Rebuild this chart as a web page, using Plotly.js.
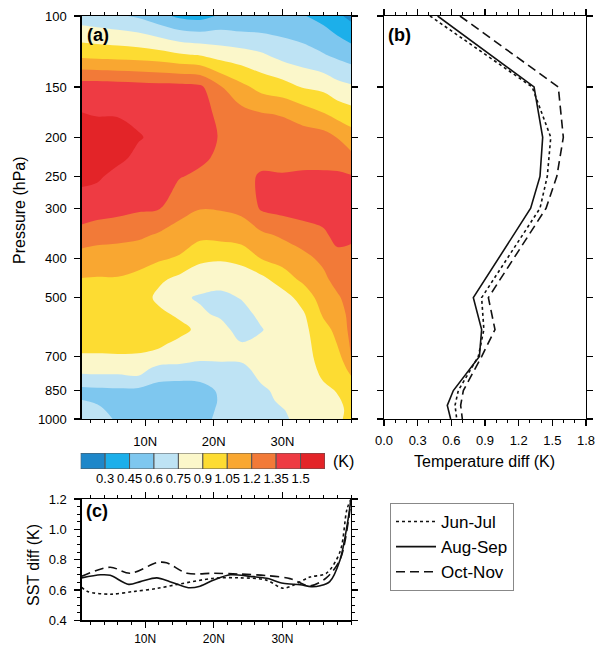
<!DOCTYPE html>
<html><head><meta charset="utf-8">
<script src="https://cdn.plot.ly/plotly-3.0.1.min.js"></script>
<style>html,body{margin:0;padding:0;background:#fff}#chart{width:599px;height:648px}</style>
</head><body><div id="chart"></div>
<script>
// ---------- panel (a): latitude-pressure field of temperature difference (K) ----------
const lats = [0.75, 3, 6, 9, 12, 15, 18, 21, 24, 27, 30, 33, 36, 38, 40];
const levels = [100,125,150,175,200,225,250,300,350,400,450,500,550,600,650,700,750,800,850,900,950,1000];
// one profile per latitude (values at the pressure levels above, 100 -> 1000 hPa)
const tdiffByLat = [
  [0.67,1.01,1.43,1.505,1.58,1.58,1.53,1.44,1.29,1.13,1.045,1.00,0.98,0.96,0.93,0.89,0.79,0.70,0.55,0.605,0.65,0.68],
  [0.65,1.00,1.43,1.49,1.58,1.57,1.52,1.42,1.26,1.12,1.04,1.00,0.98,0.96,0.93,0.89,0.79,0.71,0.56,0.58,0.63,0.66],
  [0.62,0.99,1.42,1.49,1.56,1.53,1.46,1.40,1.24,1.125,1.04,1.00,0.98,0.97,0.94,0.89,0.79,0.71,0.57,0.53,0.55,0.58],
  [0.58,0.98,1.41,1.47,1.51,1.47,1.42,1.37,1.23,1.09,1.02,0.99,0.97,0.96,0.93,0.89,0.80,0.72,0.56,0.50,0.50,0.52],
  [0.50,0.96,1.40,1.46,1.47,1.46,1.44,1.36,1.18,1.07,0.93,0.86,0.94,0.95,0.93,0.85,0.71,0.62,0.52,0.48,0.48,0.50],
  [0.42,0.92,1.40,1.45,1.46,1.42,1.36,1.24,1.15,1.03,0.86,0.78,0.87,0.95,0.86,0.80,0.72,0.61,0.50,0.47,0.47,0.49],
  [0.40,0.895,1.38,1.43,1.46,1.38,1.32,1.205,1.09,0.92,0.84,0.73,0.78,0.86,0.83,0.78,0.70,0.62,0.52,0.50,0.55,0.56],
  [0.47,0.84,1.21,1.30,1.33,1.32,1.28,1.21,1.10,0.91,0.83,0.70,0.72,0.82,0.83,0.78,0.71,0.66,0.63,0.62,0.62,0.63],
  [0.46,0.81,1.09,1.25,1.29,1.30,1.30,1.23,1.13,0.93,0.84,0.76,0.68,0.67,0.76,0.80,0.70,0.66,0.65,0.65,0.66,0.67],
  [0.47,0.77,1.00,1.21,1.28,1.30,1.37,1.37,1.17,1.055,0.86,0.82,0.80,0.74,0.80,0.84,0.82,0.77,0.72,0.70,0.70,0.71],
  [0.48,0.70,0.96,1.19,1.27,1.31,1.36,1.40,1.22,1.10,0.98,0.83,0.84,0.86,0.87,0.86,0.84,0.82,0.80,0.78,0.74,0.72],
  [0.46,0.66,0.89,1.13,1.27,1.31,1.37,1.42,1.27,1.16,1.08,0.96,0.88,0.86,0.86,0.86,0.86,0.85,0.84,0.83,0.82,0.81],
  [0.40,0.61,0.86,1.06,1.26,1.31,1.37,1.43,1.32,1.23,1.17,1.12,1.07,1.00,0.96,0.94,0.92,0.905,0.86,0.84,0.83,0.83],
  [0.33,0.57,0.80,1.00,1.195,1.30,1.37,1.44,1.40,1.30,1.25,1.18,1.12,1.09,1.055,0.99,0.95,0.93,0.91,0.88,0.86,0.88],
  [0.26,0.53,0.77,0.96,1.12,1.24,1.36,1.44,1.38,1.30,1.27,1.26,1.25,1.24,1.22,1.205,1.10,1.02,0.97,0.95,0.94,0.93]
];
const bandColors = ['#1E87C9','#1CAFEA','#7EC7EF','#BEE3F4','#FBF7CA','#FDDC32','#F9A731','#F27A38','#EE3B43','#E32428'];
const bandTicks = [0.3, 0.45, 0.6, 0.75, 0.9, 1.05, 1.2, 1.35, 1.5];
const bandTickText = ['0.3','0.45','0.6','0.75','0.9','1.05','1.2','1.35','1.5'];

// ---------- panel (b): area-mean profiles (K) ----------
const profLevels = [100,150,200,250,300,500,600,700,850,925,1000];
const profJunJul = [0.41,1.32,1.486,1.455,1.39,0.87,0.89,0.84,0.662,0.633,0.648];
const profAugSep = [0.478,1.337,1.414,1.39,1.307,0.796,0.87,0.85,0.618,0.564,0.594];
const profOctNov = [0.677,1.553,1.598,1.54,1.444,0.93,0.989,0.87,0.707,0.683,0.698];

// ---------- panel (c): SST difference (K) ----------
const sstLatJJ = [0.75,1.6,4.9,8.3,11.7,15.1,20,23.8,27.7,30,31.5,34,36.4,38.4,39.4,40];
const sstJJ    = [0.617,0.59,0.572,0.59,0.61,0.64,0.677,0.68,0.665,0.612,0.63,0.685,0.71,0.852,1.13,1.2];
const sstLatAS = [0.75,3.5,4.9,7.6,9.3,11.7,13.6,16.3,18,20,22.4,25.3,27.7,30.1,32.6,34.2,35.5,36.9,38.4,39.4,40];
const sstAS    = [0.68,0.70,0.697,0.637,0.655,0.68,0.655,0.615,0.625,0.666,0.70,0.69,0.677,0.644,0.635,0.622,0.628,0.655,0.798,1.017,1.2];
const sstLatON = [0.75,4.9,7.8,11.7,13.1,16.1,20,23.8,27.7,31.1,34,36.4,38.4,39.6,40];
const sstON    = [0.69,0.75,0.71,0.78,0.78,0.71,0.71,0.705,0.695,0.675,0.627,0.68,0.80,1.05,1.2];

const seasonNames = ['Jun-Jul','Aug-Sep','Oct-Nov'];
const pTicks = [100,150,200,250,300,400,500,700,850,1000];
const latTicks = [10,20,30];
const latTickText = ['10N','20N','30N'];

// ----- build -----
const z = levels.map((p, j) => lats.map((l, i) => tdiffByLat[i][j]));
const nb = bandColors.length;
const cscale = bandColors.map((c, i) => [i / (nb - 1), c]);
const step = bandTicks[1] - bandTicks[0];
const barCenters = bandColors.map((c, i) => bandTicks[0] - step / 2 + i * step);

const FONT = 'Liberation Sans, Arial, Helvetica, sans-serif';
const dashes = ['dot', 'solid', '9px,5px'];

const traces = [];
traces.push({
  type: 'contour', x: lats, y: levels, z: z, xaxis: 'x', yaxis: 'y',
  autocontour: false,
  contours: {start: bandTicks[0], end: bandTicks[bandTicks.length-1], size: step, coloring: 'fill', showlines: false},
  colorscale: cscale, showscale: false, line: {width: 0, smoothing: 1}, hoverinfo: 'skip'
});
[profJunJul, profAugSep, profOctNov].forEach((v, k) => traces.push({
  type: 'scatter', mode: 'lines', x: v, y: profLevels, xaxis: 'x2', yaxis: 'y2',
  line: {color: '#111', width: 1.6, dash: dashes[k]}, showlegend: false, hoverinfo: 'skip'
}));
[[sstLatJJ, sstJJ], [sstLatAS, sstAS], [sstLatON, sstON]].forEach((d, k) => traces.push({
  type: 'scatter', mode: 'lines', x: d[0], y: d[1], xaxis: 'x3', yaxis: 'y3', name: seasonNames[k],
  line: {color: '#111', width: 1.6, dash: dashes[k], shape: 'spline', smoothing: 0.9}, showlegend: true, hoverinfo: 'skip'
}));
traces.push({
  type: 'bar', x: barCenters, y: bandColors.map(() => 1), width: step, xaxis: 'x4', yaxis: 'y4',
  marker: {color: bandColors, line: {color: '#555', width: 1}}, showlegend: false, hoverinfo: 'skip'
});

const axBase = {showline: true, linecolor: '#000', linewidth: 1.3, mirror: 'ticks', ticks: 'outside',
  ticklen: 6, tickwidth: 1.1, tickcolor: '#000', showgrid: false, zeroline: false, fixedrange: true,
  tickfont: {family: FONT, size: 13, color: '#000'}, automargin: false};

const latAxis = (dom, anchor, standoff, fsize) => Object.assign({}, axBase, {
  domain: dom, anchor: anchor, range: [0.75, 40], tickmode: 'array', tickvals: latTicks, ticktext: latTickText,
  ticklabelstandoff: standoff, tickfont: {family: FONT, size: fsize, color: '#000'},
  minor: {dtick: 2, tick0: 0, ticks: 'outside', ticklen: 3, tickwidth: 1, tickcolor: '#000'}
});
const pAxis = (dom, anchor, labels) => Object.assign({}, axBase, {
  domain: dom, anchor: anchor, type: 'log', range: [3, 2], tickmode: 'array', tickvals: pTicks,
  ticktext: pTicks.map(String), showticklabels: labels, ticklabelstandoff: 5
});

const P = (px) => px / 599, Q = (py) => 1 - py / 648;
const note = (text, px, py, size, angle) => ({text: text, x: P(px), y: Q(py), xref: 'paper', yref: 'paper',
  xanchor: 'center', yanchor: 'middle', showarrow: false, textangle: angle || 0,
  font: {size: size, family: FONT, color: '#000'}});

const layout = {
  width: 599, height: 648, margin: {l: 0, r: 0, t: 0, b: 0},
  paper_bgcolor: '#fff', plot_bgcolor: '#fff', font: {family: FONT, color: '#000'},
  xaxis: latAxis([P(81.7), P(351)], 'y', 4, 13),
  yaxis: pAxis([Q(419), Q(16)], 'x', true),
  xaxis2: Object.assign({}, axBase, {domain: [P(384), P(586)], anchor: 'y2', range: [0, 1.8], tickmode: 'array',
    tickvals: [0, 0.3, 0.6, 0.9, 1.2, 1.5, 1.8], ticktext: ['0.0','0.3','0.6','0.9','1.2','1.5','1.8'], ticklabelstandoff: 3,
    minor: {dtick: 0.1, tick0: 0, ticks: 'outside', ticklen: 3, tickwidth: 1, tickcolor: '#000'}}),
  yaxis2: pAxis([Q(419), Q(16)], 'x2', false),
  xaxis3: latAxis([P(81.7), P(351)], 'y3', 1, 12),
  yaxis3: Object.assign({}, axBase, {domain: [Q(620.3), Q(499)], anchor: 'x3', range: [0.4, 1.2], tickmode: 'array',
    tickvals: [0.4, 0.6, 0.8, 1.0, 1.2], ticktext: ['0.4','0.6','0.8','1.0','1.2'], ticklabelstandoff: 5,
    minor: {dtick: 0.05, tick0: 0, ticks: 'outside', ticklen: 3, tickwidth: 1, tickcolor: '#000'}}),
  xaxis4: {domain: [P(80.7), P(325)], anchor: 'y4', range: [0.15, 1.65], tickmode: 'array', tickvals: bandTicks,
    ticktext: bandTickText, ticks: '', showline: false, showgrid: false, zeroline: false, fixedrange: true,
    tickfont: {family: FONT, size: 13, color: '#000'}},
  yaxis4: {domain: [Q(469), Q(453)], anchor: 'x4', range: [0, 1], visible: false, fixedrange: true},
  showlegend: true,
  legend: {x: P(390), y: Q(503), xanchor: 'left', yanchor: 'top', bordercolor: '#888', borderwidth: 1,
    bgcolor: '#fff', font: {family: FONT, size: 17, color: '#000'}, tracegroupgap: 0, itemwidth: 40},
  annotations: [
    note('<b>(a)</b>', 98, 35, 18),
    note('<b>(b)</b>', 399, 35, 18),
    note('<b>(c)</b>', 97, 511, 18),
    note('Pressure (hPa)', 19, 210, 16, -90),
    note('Temperature diff (K)', 484, 461, 16),
    note('SST diff (K)', 33, 565, 16, -90),
    note('(K)', 343, 462, 16)
  ]
};

Plotly.newPlot('chart', traces, layout, {staticPlot: true, displayModeBar: false});
</script></body></html>
